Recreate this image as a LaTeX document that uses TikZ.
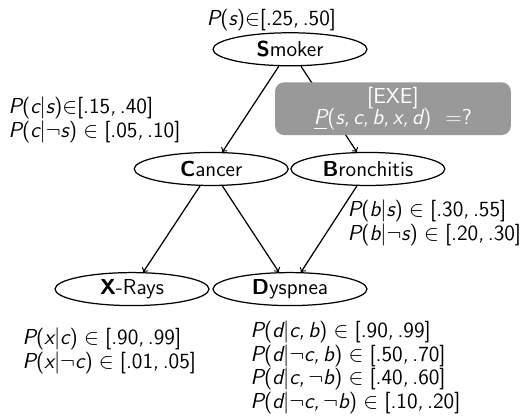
\documentclass[tikz,border=0pt]{standalone}
\usepackage{amssymb}
\usepackage{amsmath}
\usepackage{tikz}
\usetikzlibrary{shapes.geometric}
% Sans-Serif Mathe wie in Beamer
\SetSymbolFont{operators}{normal}{TU}{lmss}{m}{n}
\SetSymbolFont{letters}{normal}{TU}{lmss}{m}{sl}
\mathcode`\,="612C
\mathcode`\.="002E

\tikzset{
  var/.style={draw, ellipse, minimum width=3.5cm, minimum height=0.75cm, inner sep=0pt},
  cpt/.style={align=left, anchor=west, inner sep=0pt},
  query/.style={fill=gray!80, rounded corners=6pt, text=white, align=center,
    minimum width=5.36cm, minimum height=1.2cm, inner sep=0pt}
}

\begin{document}
\begin{tikzpicture}[font=\sffamily\fontsize{14}{14}\selectfont, >=to, thick]
  \useasboundingbox (0,0) rectangle (12.09,9.48);
  % Variablen des Netzes
  \node[var] (s) at (6.59,8.36) {\textbf{S}moker};
  \node[var] (c) at (4.80,5.64) {\textbf{C}ancer};
  \node[var] (b) at (8.36,5.64) {\textbf{B}ronchitis};
  \node[var] (x) at (3.00,2.91) {\textbf{X}-Rays};
  \node[var] (d) at (6.59,2.91) {\textbf{D}yspnea};
  % Kanten
  \draw[->] (s) -- (c);
  \draw[->] (s) -- (b);
  \draw[->] (c) -- (x);
  \draw[->] (c) -- (d);
  \draw[->] (b) -- (d);
  % Intervalle
  \node (ps) at (6.17,9.02) {$P(s){\in}[.25, .50]$};
  \node[cpt] (pc) at (0.18,6.75) {$P(c|s){\in}[.15, .40]$\\ $P(c|\neg s) \in [.05, .10]$};
  \node[cpt] (pb) at (7.89,4.41) {$P(b|s) \in [.30, .55]$\\ $P(b|\neg s) \in [.20, .30]$};
  \node[cpt] (px) at (0.50,1.50) {$P(x|c) \in [.90, .99]$\\ $P(x|\neg c) \in [.01, .05]$};
  \node[cpt] (pd) at (5.68,1.13) {$P(d|c, b) \in [.90, .99]$\\ $P(d|\neg c, b) \in [.50, .70]$\\
    $P(d|c, \neg b) \in [.40, .60]$\\ $P(d|\neg c, \neg b) \in [.10, .20]$};
  % Anfrage
  \node[query] (q) at (8.93,7.01) {[EXE]\\ $\underline{P}(s, c, b, x, d)$\ \ $=$?};
\end{tikzpicture}
\end{document}
